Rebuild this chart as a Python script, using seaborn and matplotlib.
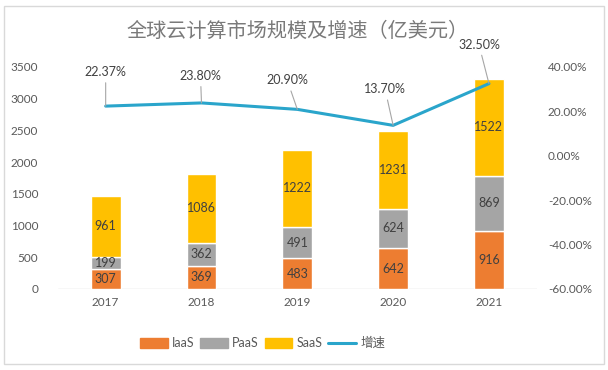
import matplotlib
matplotlib.use("Agg")
import matplotlib.pyplot as plt
import seaborn as sns
import numpy as np
import pandas as pd
from matplotlib.patches import Rectangle, Patch
from matplotlib.lines import Line2D

years = ["2017", "2018", "2019", "2020", "2021"]
iaas = [307, 369, 483, 642, 916]
paas = [199, 362, 491, 624, 869]
saas = [961, 1086, 1222, 1231, 1522]
growth = [22.37, 23.80, 20.90, 13.70, 32.50]
growth_labels = ["22.37%", "23.80%", "20.90%", "13.70%", "32.50%"]
left_ticks = [0, 500, 1000, 1500, 2000, 2500, 3000, 3500]
right_ticks = [-60, -40, -20, 0, 20, 40]
title = "全球云计算市场规模及增速（亿美元）"

sns.set_theme(style="white")
plt.rcParams['font.family'] = ['Lato', 'Noto Sans CJK SC', 'DejaVu Sans']

c_iaas = "#ED7D31"
c_paas = "#A5A5A5"
c_saas = "#FFC000"
c_line = "#2AA5CB"
txt = "#595959"

fig = plt.figure(figsize=(6.08, 3.70), dpi=100)
ax = fig.add_axes([0.095, 0.219, 0.788, 0.600])

df = pd.DataFrame({"year": years, "IaaS": iaas, "PaaS": paas, "SaaS": saas})
bottom1 = np.array(iaas)
bottom2 = bottom1 + np.array(paas)
w = 0.31
sns.barplot(data=df, x="year", y="IaaS", color=c_iaas, width=w, ax=ax, saturation=1)
sns.barplot(data=df, x="year", y="PaaS", color=c_paas, width=w, ax=ax, bottom=bottom1, saturation=1)
sns.barplot(data=df, x="year", y="SaaS", color=c_saas, width=w, ax=ax, bottom=bottom2, saturation=1)

for i in range(len(years)):
    for b, v in [(0, iaas[i]), (bottom1[i], paas[i]), (bottom2[i], saas[i])]:
        ax.text(i, b + v / 2, str(v), ha="center", va="center", fontsize=9, color="#404040")

ax.set_xlim(-0.5, 4.5)
ax.set_ylim(0, 3500)
ax.set_yticks(left_ticks)
ax.set_xlabel("")
ax.set_ylabel("")
for s in ax.spines.values():
    s.set_visible(False)
ax.axhline(0, color="#d9d9d9", lw=1, zorder=0)
ax.tick_params(axis="both", length=0, labelsize=8.5, colors=txt, pad=6)
ax.tick_params(axis="y", pad=14)

ax2 = ax.twinx()
ldf = pd.DataFrame({"x": np.arange(len(years)), "g": growth})
sns.lineplot(data=ldf, x="x", y="g", ax=ax2, color=c_line, lw=2.2)
ax2.set_ylim(-60, 40)
ax2.set_yticks(right_ticks)
ax2.set_yticklabels([f"{t:.2f}%" for t in right_ticks])
ax2.set_xlim(-0.5, 4.5)
ax2.set_xlabel("")
ax2.set_ylabel("")
for s in ax2.spines.values():
    s.set_visible(False)
ax2.tick_params(axis="y", length=0, labelsize=8.5, colors=txt, pad=8)

offsets = [(0, 34), (-1, 27), (-10, 29), (-8, 36), (-10, 39)]
for i, (g, lab) in enumerate(zip(growth, growth_labels)):
    ax2.annotate(lab, xy=(i, g), xytext=offsets[i], textcoords="offset pixels",
                 ha="center", va="center", fontsize=9, color="#404040",
                 arrowprops=dict(arrowstyle="-", color="#a6a6a6", lw=0.8, shrinkA=1, shrinkB=0),
                 annotation_clip=False)

fig.text(0.49, 0.914, title, ha="center", va="center", fontsize=14.5, color="#7a7a7a",
         family=["Noto Sans CJK SC", "DejaVu Sans"])

handles = [Patch(color=c_iaas), Patch(color=c_paas), Patch(color=c_saas),
           Line2D([0], [0], color=c_line, lw=2.2)]
fig.legend(handles, ["IaaS", "PaaS", "SaaS", "增速"], loc="center",
           bbox_to_anchor=(0.432, 0.073), ncol=4, frameon=False, fontsize=9,
           handlelength=2.2, handleheight=0.8, handletextpad=0.35, columnspacing=0.45,
           labelcolor=txt)

fig.add_artist(Rectangle((0.007, 0.016), 0.986, 0.968, transform=fig.transFigure,
                         fill=False, edgecolor="#d9d9d9", lw=1))

fig.savefig("out.png", dpi=100)
